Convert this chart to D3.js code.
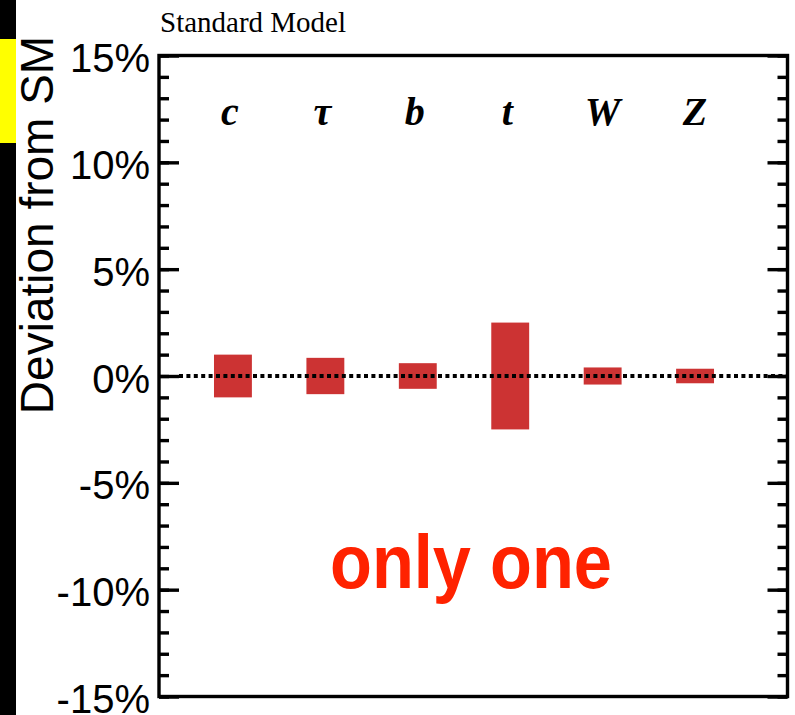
<!DOCTYPE html>
<head>
<meta charset="utf-8">
<style>
body { margin: 0; background: #fff; }
svg { display: block; }
svg .frame { fill: none; stroke: black; stroke-width: 3.4px; }
svg .tick line { stroke: black; stroke-width: 3.4px; }
svg .bar { fill: #cc3333; }
svg .zero { stroke: black; stroke-width: 4px; stroke-dasharray: 4, 3.4; }
</style>
</head>
<body>
<script src="https://d3js.org/d3.v7.min.js"></script>
<script>
  // data
  var particles = ["c", "\u03c4", "b", "t", "W", "Z"];
  var deviation = [1.0, 0.85, 0.6, 2.5, 0.4, 0.34];   // +/- half height in %
  var majorTicks = [-15, -10, -5, 0, 5, 10, 15];
  var minorTicks = d3.range(-15, 16, 1);

  var W = 795, H = 715;
  var frame = { left: 159, right: 787.5, top: 55.5, bottom: 696.5 };

  var svg = d3.select("body").append("svg")
      .attr("width", W)
      .attr("height", H);

  // scales
  var xScale = d3.scaleLinear().domain([-0.8, 6.0]).range([frame.left, frame.right]);
  var yScale = d3.scaleLinear().domain([-15, 15]).range([frame.bottom, frame.top]);
  var barW = xScale(0.41) - xScale(0);

  // left black strip with the yellow marker
  svg.append("rect").attr("x", 0).attr("y", 0).attr("width", 16).attr("height", H).style("fill", "black");
  svg.append("rect").attr("x", 0).attr("y", 39).attr("width", 16).attr("height", 104).style("fill", "#ffff00");

  // bars
  svg.selectAll("rect.bar")
    .data(deviation)
    .enter().append("rect")
      .classed("bar", true)
      .attr("x", function (d, i) { return xScale(i) - barW / 2; })
      .attr("y", function (d) { return yScale(d); })
      .attr("width", barW)
      .attr("height", function (d) { return yScale(-d) - yScale(d); });

  // dotted zero line
  svg.append("line")
      .classed("zero", true)
      .attr("x1", frame.left + 20)
      .attr("x2", frame.right)
      .attr("y1", yScale(0))
      .attr("y2", yScale(0));

  // left axis: major ticks with labels
  var yAxis = d3.axisRight(yScale)
      .tickValues(majorTicks)
      .tickSize(20)
      .tickSizeOuter(0)
      .tickFormat(function (d) { return d + "%"; });

  var ya = svg.append("g")
      .attr("transform", "translate(" + frame.left + ",0)")
      .call(yAxis);
  ya.select(".domain").remove();
  ya.selectAll(".tick text")
      .attr("x", -9)
      .attr("dy", "0.4em")
      .style("text-anchor", "end")
      .style("font-family", "'Liberation Sans', Arial, sans-serif")
      .style("font-size", "40px")
      .style("fill", "black");

  // left axis minor ticks
  svg.append("g")
      .attr("transform", "translate(" + frame.left + ",0)")
      .call(d3.axisRight(yScale).tickValues(minorTicks).tickSize(10).tickFormat(""))
    .select(".domain").remove();

  // right axis ticks pointing inward
  var yr = svg.append("g")
      .attr("transform", "translate(" + frame.right + ",0)");
  yr.call(d3.axisLeft(yScale).tickValues(majorTicks).tickSize(20).tickFormat(""));
  yr.select(".domain").remove();
  var yr2 = svg.append("g")
      .attr("transform", "translate(" + frame.right + ",0)");
  yr2.call(d3.axisLeft(yScale).tickValues(minorTicks).tickSize(10).tickFormat(""));
  yr2.select(".domain").remove();

  // frame
  svg.append("rect")
      .classed("frame", true)
      .attr("x", frame.left)
      .attr("y", frame.top)
      .attr("width", frame.right - frame.left)
      .attr("height", frame.bottom - frame.top);

  // particle labels
  svg.selectAll("text.particle")
    .data(particles)
    .enter().append("text")
      .classed("particle", true)
      .attr("x", function (d, i) { return xScale(i) - (i < 4 ? 3 : 0); })
      .attr("y", 125)
      .text(function (d) { return d; })
      .style("text-anchor", "middle")
      .style("font-family", "'Liberation Serif', 'Times New Roman', serif")
      .style("font-weight", "bold")
      .style("font-style", "italic")
      .style("font-size", "40px")
      .style("fill", "black");

  // y title
  svg.append("text")
      .attr("transform", "translate(53," + 225 + ") rotate(-90)")
      .text("Deviation from SM")
      .style("text-anchor", "middle")
      .style("font-family", "'Liberation Sans', Arial, sans-serif")
      .style("font-size", "46px")
      .style("fill", "black");

  // top note
  svg.append("text")
      .attr("x", 160)
      .attr("y", 32)
      .text("Standard Model")
      .style("font-family", "'Liberation Serif', 'Times New Roman', serif")
      .style("font-size", "29px")
      .style("fill", "black");

  // red annotation
  svg.append("text")
      .attr("x", 330)
      .attr("y", 588)
      .attr("textLength", 282)
      .attr("lengthAdjust", "spacingAndGlyphs")
      .text("only one")
      .style("font-family", "'Liberation Sans', Arial, sans-serif")
      .style("font-weight", "bold")
      .style("font-size", "76px")
      .style("fill", "#ff2200");
</script>
</body>
</html>
